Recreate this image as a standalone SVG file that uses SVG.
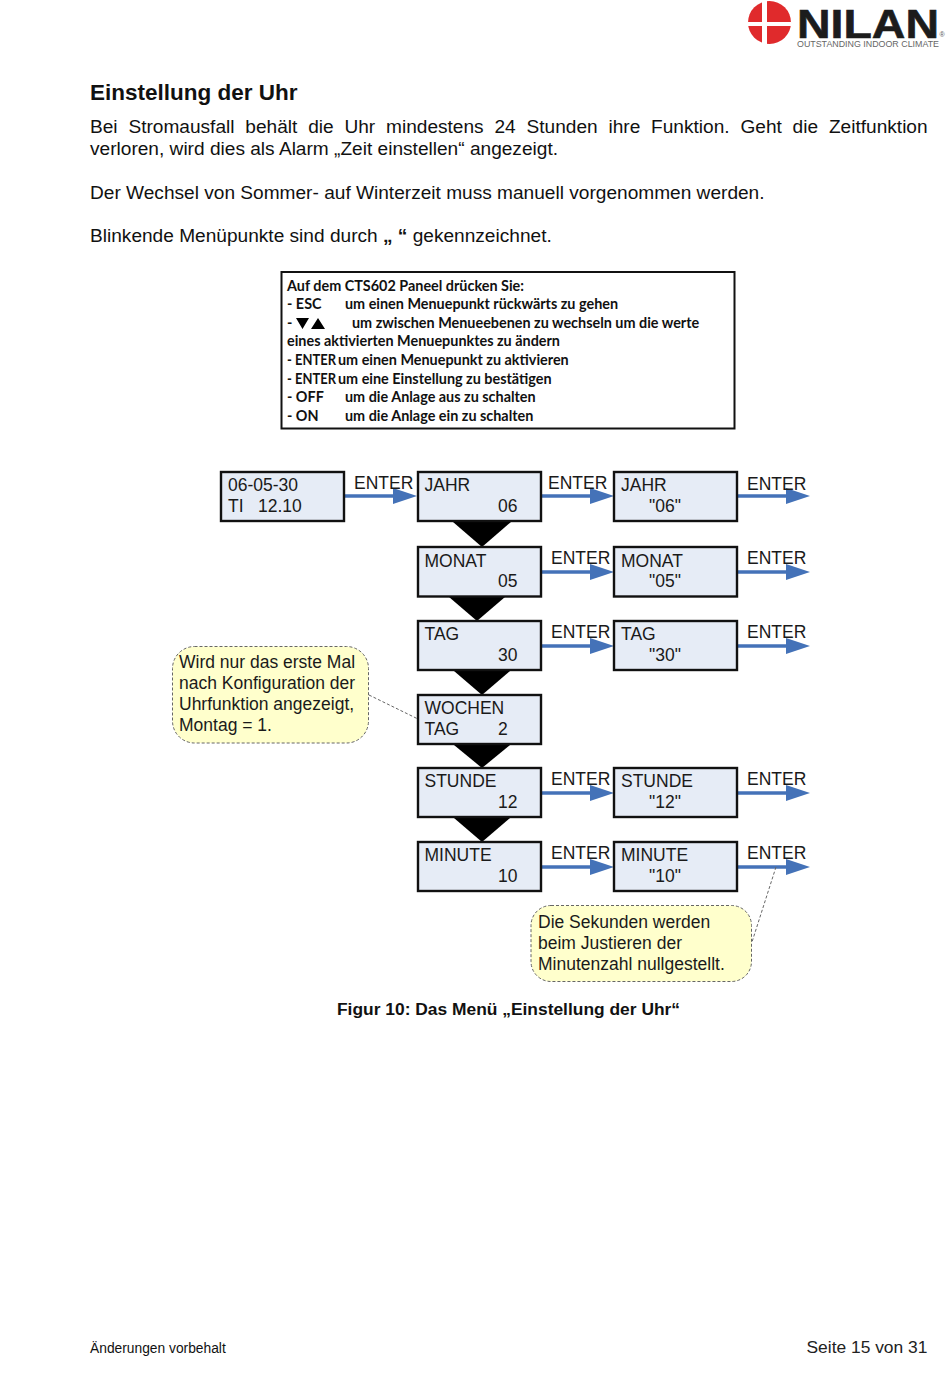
<svg xmlns="http://www.w3.org/2000/svg" width="950" height="1379" viewBox="0 0 950 1379">
<style>
text{font-family:"Liberation Sans",Arial,sans-serif;fill:#111}
.h{font-size:22.5px;font-weight:bold}
.b{font-size:19.1px}
.p{font-family:Lato,"Liberation Sans",sans-serif;font-size:14.4px;font-weight:bold;fill:#111}
.n{font-size:17.5px;fill:#1a1a1a}
.box{fill:#e6ecf6;stroke:#111;stroke-width:2.4}
.tri{fill:#000}
.ar{stroke:#4472b8;stroke-width:3.6;fill:none;marker-end:url(#a)}
.note{fill:#ffffcc;stroke:#666;stroke-width:1;stroke-dasharray:3 2}
.lead{stroke:#666;stroke-width:1;stroke-dasharray:3 2;fill:none}
</style>
<defs><marker id="a" markerUnits="userSpaceOnUse" markerWidth="25" markerHeight="18" refX="0" refY="8" orient="auto"><path d="M0 0L24 8L0 16Z" fill="#4472b8"/></marker></defs>
<rect width="950" height="1379" fill="#fff"/>
<g id="logo">
<circle cx="769.500" cy="22.500" r="21.500" fill="#e02a2c"/>
<rect x="762" y="1" width="5" height="43" fill="#fff"/>
<rect x="748" y="22" width="43" height="4" fill="#fff"/>
<text x="797" y="37.500" textLength="142" lengthAdjust="spacingAndGlyphs" style="font-size:41px;font-weight:bold;fill:#1c1c1c;stroke:#1c1c1c;stroke-width:.6">NILAN</text>
<text x="797" y="47" textLength="142" lengthAdjust="spacingAndGlyphs" style="font-size:9.500px;fill:#666">OUTSTANDING INDOOR CLIMATE</text>
<text x="939.500" y="37" style="font-size:7px;fill:#555">®</text>
</g>
<text class="h" x="90" y="100">Einstellung der Uhr</text>
<text class="b" x="90" y="133" word-spacing="5.500">Bei Stromausfall behält die Uhr mindestens 24 Stunden ihre Funktion. Geht die Zeitfunktion</text>
<text class="b" x="90" y="155">verloren, wird dies als Alarm „Zeit einstellen“ angezeigt.</text>
<text class="b" x="90" y="199">Der Wechsel von Sommer- auf Winterzeit muss manuell vorgenommen werden.</text>
<text class="b" x="90" y="242">Blinkende Menüpunkte sind durch <tspan font-weight="bold">„ “</tspan> gekennzeichnet.</text>
<g id="legend">
<rect x="281.500" y="272" width="453" height="156.500" fill="#fff" stroke="#111" stroke-width="2"/>
<text class="p" x="287" y="291">Auf dem CTS602 Paneel drücken Sie:</text>
<text class="p" x="287" y="309">- ESC</text><text class="p" x="345" y="309">um einen Menuepunkt rückwärts zu gehen</text>
<text class="p" x="287" y="328">-</text><path d="M296 318H309L302.500 329ZM311 329H325L318 318Z" fill="#000"/><text class="p" x="352" y="328">um zwischen Menueebenen zu wechseln um die werte</text>
<text class="p" x="287" y="346">eines aktivierten Menuepunktes zu ändern</text>
<text class="p" x="287" y="365" textLength="49" lengthAdjust="spacingAndGlyphs">- ENTER</text><text class="p" x="338" y="365">um einen Menuepunkt zu  aktivieren</text>
<text class="p" x="287" y="384" textLength="49" lengthAdjust="spacingAndGlyphs">- ENTER</text><text class="p" x="338" y="384">um eine Einstellung zu bestätigen</text>
<text class="p" x="287" y="402">- OFF</text><text class="p" x="345" y="402">um die Anlage aus zu schalten</text>
<text class="p" x="287" y="421">- ON</text><text class="p" x="345" y="421">um die Anlage ein zu schalten</text>
</g>
<g id="connectors">
<path class="tri" d="M453 522H511L482 547Z"/>
<path class="tri" d="M449 597H505L477 621Z"/>
<path class="tri" d="M454 671H510L482 695Z"/>
<path class="tri" d="M454 745H510L482 768Z"/>
<path class="tri" d="M454 818H510L482 842Z"/>
<path class="ar" d="M344 496H393"/>
<path class="ar" d="M541 496H590"/>
<path class="ar" d="M738 496H786"/>
<path class="ar" d="M541 572H590"/>
<path class="ar" d="M738 572H786"/>
<path class="ar" d="M541 646H590"/>
<path class="ar" d="M738 646H786"/>
<path class="ar" d="M541 793H590"/>
<path class="ar" d="M738 793H786"/>
<path class="ar" d="M541 867H590"/>
<path class="ar" d="M738 867H786"/>
<path class="lead" d="M369 695L418 719"/>
<path class="lead" d="M776 867L752 942"/>
</g>
<g id="enter-labels">
<text class="n" x="354" y="489">ENTER</text>
<text class="n" x="548" y="489">ENTER</text>
<text class="n" x="747" y="490">ENTER</text>
<text class="n" x="551" y="564">ENTER</text>
<text class="n" x="747" y="564">ENTER</text>
<text class="n" x="551" y="638">ENTER</text>
<text class="n" x="747" y="638">ENTER</text>
<text class="n" x="551" y="785">ENTER</text>
<text class="n" x="747" y="785">ENTER</text>
<text class="n" x="551" y="859">ENTER</text>
<text class="n" x="747" y="859">ENTER</text>
</g>
<g id="n-start"><rect class="box" x="221" y="472" width="123" height="49"/><text class="n" x="228" y="491">06-05-30</text><text class="n" x="228" y="512">TI</text><text class="n" x="258" y="512">12.10</text></g>
<g id="n-jahr"><rect class="box" x="418" y="472" width="123" height="49"/><text class="n" x="424.500" y="491">JAHR</text><text class="n" x="498" y="512">06</text></g>
<g id="n-jahr2"><rect class="box" x="614" y="472" width="123" height="49"/><text class="n" x="621" y="491">JAHR</text><text class="n" x="649" y="512">"06"</text></g>
<g id="n-monat"><rect class="box" x="418" y="547" width="123" height="49.500"/><text class="n" x="424.500" y="567">MONAT</text><text class="n" x="498" y="587">05</text></g>
<g id="n-monat2"><rect class="box" x="614" y="547" width="123" height="49.500"/><text class="n" x="621" y="567">MONAT</text><text class="n" x="649" y="587">"05"</text></g>
<g id="n-tag"><rect class="box" x="418" y="621" width="123" height="49"/><text class="n" x="424.500" y="640">TAG</text><text class="n" x="498" y="661">30</text></g>
<g id="n-tag2"><rect class="box" x="614" y="621" width="123" height="49"/><text class="n" x="621" y="640">TAG</text><text class="n" x="649" y="661">"30"</text></g>
<g id="n-wochen"><rect class="box" x="418" y="695" width="123" height="49"/><text class="n" x="424.500" y="714">WOCHEN</text><text class="n" x="424.500" y="735">TAG</text><text class="n" x="498" y="735">2</text></g>
<g id="n-stunde"><rect class="box" x="418" y="768" width="123" height="49"/><text class="n" x="424.500" y="787">STUNDE</text><text class="n" x="498" y="808">12</text></g>
<g id="n-stunde2"><rect class="box" x="614" y="768" width="123" height="49"/><text class="n" x="621" y="787">STUNDE</text><text class="n" x="649" y="808">"12"</text></g>
<g id="n-minute"><rect class="box" x="418" y="842" width="123" height="49"/><text class="n" x="424.500" y="861">MINUTE</text><text class="n" x="498" y="882">10</text></g>
<g id="n-minute2"><rect class="box" x="614" y="842" width="123" height="49"/><text class="n" x="621" y="861">MINUTE</text><text class="n" x="649" y="882">"10"</text></g>
<g id="note1"><rect class="note" x="172.500" y="646.500" width="196" height="96.500" rx="22"/>
<text class="n" x="179" y="668">Wird nur das erste Mal</text><text class="n" x="179" y="689">nach Konfiguration der</text><text class="n" x="179" y="710">Uhrfunktion angezeigt,</text><text class="n" x="179" y="731">Montag = 1.</text></g>
<g id="note2"><rect class="note" x="531" y="905.500" width="220.500" height="76" rx="20"/>
<text class="n" x="538" y="928">Die Sekunden werden</text><text class="n" x="538" y="949">beim Justieren der</text><text class="n" x="538" y="970">Minutenzahl nullgestellt.</text></g>
<text x="337" y="1015" style="font-size:17.400px;font-weight:bold">Figur 10: Das Menü „Einstellung der Uhr“</text>
<text x="90" y="1353" style="font-size:13.800px">Änderungen vorbehalt</text>
<text x="806.500" y="1353" style="font-size:17.400px;fill:#222">Seite 15 von 31</text>
</svg>
